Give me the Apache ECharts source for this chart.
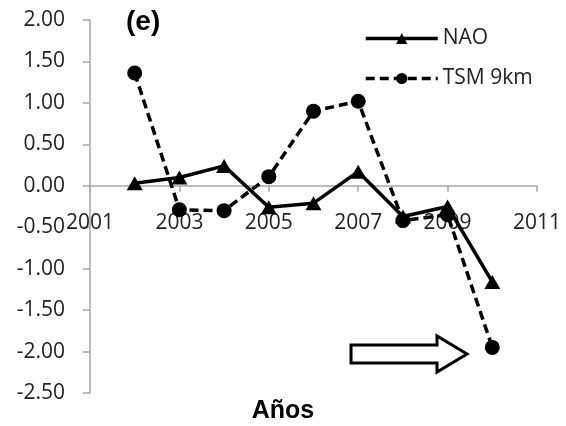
<!DOCTYPE html>
<html>
<head>
<meta charset="utf-8">
<script src="https://cdn.jsdelivr.net/npm/echarts@6/dist/echarts.min.js"></script>
<style>html,body{margin:0;padding:0;background:#fff}#c{width:566px;height:426px}</style>
</head>
<body>
<div id="c"></div>
<script>
var years = [2002, 2003, 2004, 2005, 2006, 2007, 2008, 2009, 2010];
var nao = [0.03, 0.10, 0.24, -0.26, -0.21, 0.17, -0.37, -0.25, -1.16];
var tsm = [1.36, -0.29, -0.30, 0.11, 0.90, 1.02, -0.42, -0.35, -1.95];
var yTicks = [-2.5, -2.0, -1.5, -1.0, -0.5, 0.0, 0.5, 1.0, 1.5, 2.0];
var xTicks = [2001, 2003, 2005, 2007, 2009, 2011];

function pairs(xs, ys){ return xs.map(function(x,i){return [x, ys[i]];}); }

var chart = echarts.init(document.getElementById('c'), null, {renderer:'canvas'});
var font = 'Open Sans';
chart.setOption({
  animation: false,
  backgroundColor: '#fff',
  title: [
    {text: '(e)', left: 126, top: 8, padding: 0, textStyle: {fontFamily: 'Liberation Sans', fontWeight: 'bold', fontSize: 28, color: '#000'}},
    {text: 'Años', left: 'center', top: 399, padding: 0, textStyle: {fontFamily: 'Liberation Sans', fontWeight: 'bold', fontSize: 25, color: '#000'}}
  ],
  legend: {
    orient: 'vertical', left: 364, top: 28, padding: 0, itemWidth: 72, itemHeight: 14, itemGap: 19,
    lineStyle: {width: 3.5},
    textStyle: {fontFamily: font, fontSize: 21, color: '#222', padding: [0,0,0,0]},
    data: ['NAO', 'TSM 9km']
  },
  grid: {left: 90, right: 29, top: 20, bottom: 33, containLabel: false, outerBoundsMode: 'none'},
  xAxis: {
    type: 'value', min: 2001, max: 2011, interval: 2,
    axisLine: {onZero: false, lineStyle: {color: '#a6a6a6', width: 1.5}},
    axisTick: {show: true, inside: false, length: 6, lineStyle: {color: '#a6a6a6', width: 1.5}},
    axisLabel: {margin: 27, fontFamily: font, fontSize: 21, color: '#222',
      formatter: function(v){ return xTicks.indexOf(v) >= 0 ? String(v) : ''; }},
    splitLine: {show: false}
  },
  yAxis: {
    type: 'value', min: -2.5, max: 2.0, interval: 0.5,
    axisLine: {show: true, onZero: false, lineStyle: {color: '#a6a6a6', width: 1.5}},
    axisTick: {show: true, length: 7, lineStyle: {color: '#a6a6a6', width: 1.5}},
    axisLabel: {margin: 25, fontFamily: font, fontSize: 21, color: '#222',
      formatter: function(v){ return v.toFixed(2); }},
    splitLine: {show: false}
  },
  series: [
    {name: 'NAO', type: 'line', data: pairs(years, nao), symbol: 'triangle', symbolSize: [16, 14],
      lineStyle: {color: '#000', width: 3.5}, itemStyle: {color: '#000'}, z: 3},
    {name: 'TSM 9km', type: 'line', data: pairs(years, tsm), symbol: 'circle', symbolSize: 15,
      lineStyle: {color: '#000', width: 3.5, type: [9, 5]}, itemStyle: {color: '#000'}, z: 2}
  ],
  graphic: [
    {type: 'polygon', shape: {points: [[351,345],[437,345],[437,336],[467,354],[437,372],[437,363],[351,363]]},
      style: {fill: '#fff', stroke: '#000', lineWidth: 3}}
  ]
});
// place the x axis at y = 0 using the library's own y scale
var yZero = chart.convertToPixel({yAxisIndex: 0}, 0);
var yBottom = chart.convertToPixel({yAxisIndex: 0}, yTicks[0]);
chart.setOption({xAxis: {offset: -(yBottom - yZero)}});
</script>
</body>
</html>
